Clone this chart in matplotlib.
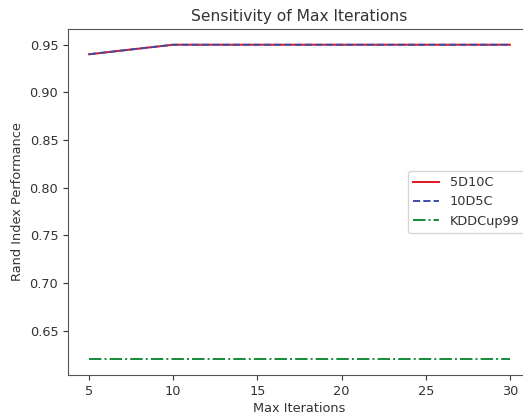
import matplotlib
matplotlib.use('Agg')
import matplotlib.pyplot as plt

max_iters = [5, 10, 15, 20, 25, 30]
ri_5d10c = [0.94, 0.95, 0.95, 0.95, 0.95, 0.95]
ri_10d5c = [0.94, 0.95, 0.95, 0.95, 0.95, 0.95]
ri_kdd = [0.62, 0.62, 0.62, 0.62, 0.62, 0.62]

plt.rcParams['font.size'] = 9.3
plt.rcParams['text.color'] = '#333333'
plt.rcParams['axes.labelcolor'] = '#333333'
plt.rcParams['xtick.color'] = '#333333'
plt.rcParams['ytick.color'] = '#333333'
plt.rcParams['axes.edgecolor'] = '#555555'

fig = plt.figure(figsize=(5.23, 4.17), dpi=100)
# axes runs a little past the right edge, like the cropped original
ax = fig.add_axes([68 / 523, 42 / 417, 463 / 523, 346 / 417])
ax.plot(max_iters, ri_5d10c, color='#e3121b', linestyle='-', linewidth=1.4, label='5D10C')
ax.plot(max_iters, ri_10d5c, color='#3e4da8', linestyle='--', linewidth=1.4, label='10D5C')
ax.plot(max_iters, ri_kdd, color='#148a3a', linestyle='-.', linewidth=1.4, label='KDDCup99')
ax.set_xlabel('Max Iterations', labelpad=3)
ax.set_ylabel('Rand Index Performance')
ax.set_title('Sensitivity of Max Iterations', fontsize=11.2)
ax.legend(loc='center right')
fig.savefig('out.png')
